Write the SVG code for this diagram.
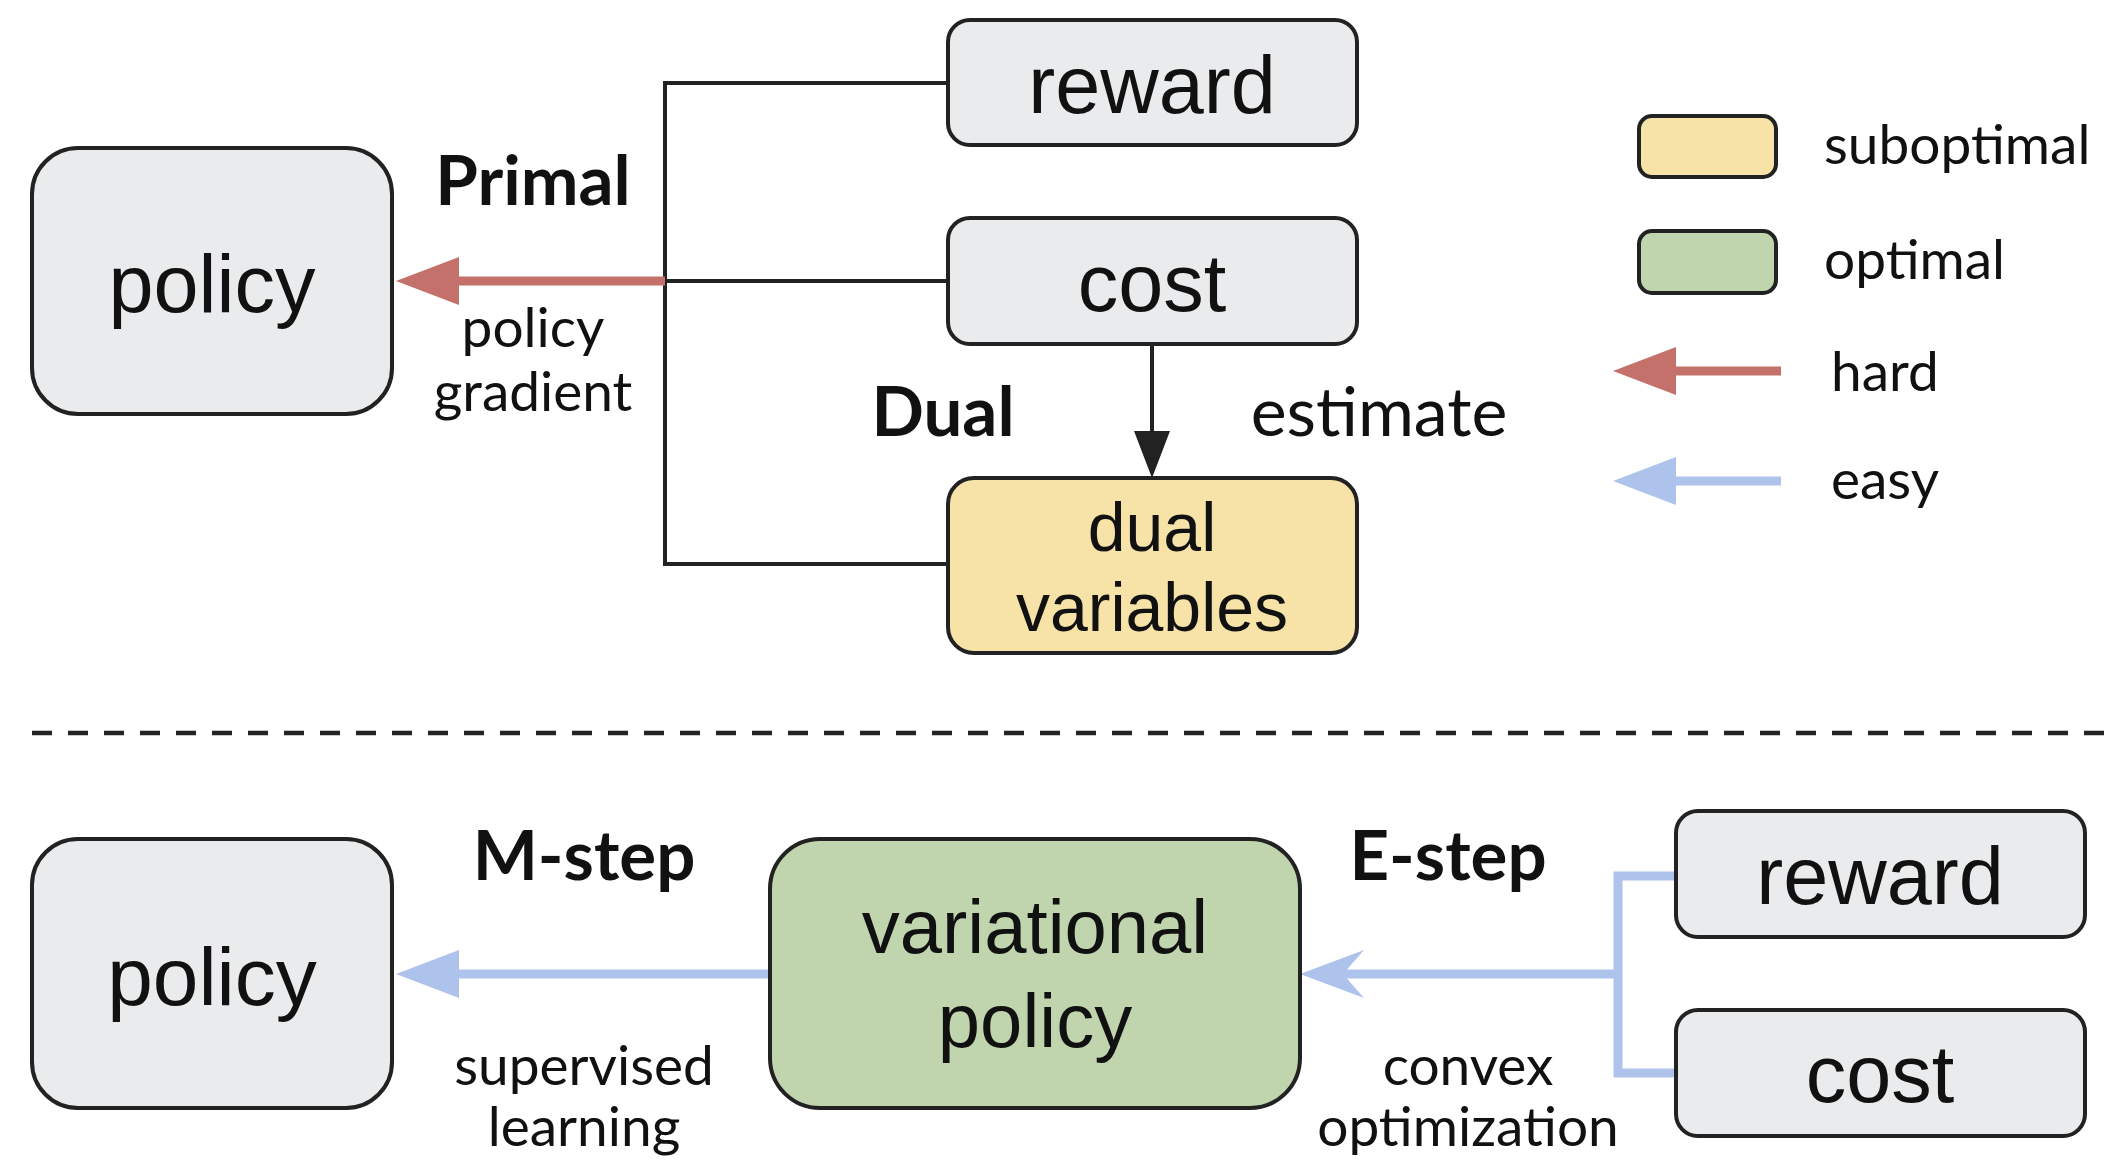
<svg xmlns="http://www.w3.org/2000/svg" width="2106" height="1161" viewBox="0 0 2106 1161">
<defs>
<style>
.node{fill:#e9ebec;stroke:#222;stroke-width:4}
.sub{fill:#f7e3a8;stroke:#222;stroke-width:4}
.opt{fill:#c0d5ae;stroke:#222;stroke-width:4}
.nt{font-family:"Liberation Sans",Arial,sans-serif;fill:#111;text-anchor:middle}
.lb{font-family:Lato,"Open Sans",sans-serif;fill:#111;text-anchor:middle}
.bold{font-weight:bold;font-size:69px}
.reg{font-size:55px}
.lg{font-family:Lato,"Open Sans",sans-serif;fill:#111;font-size:55px}
.black{fill:none;stroke:#222;stroke-width:4}
.hard{fill:none;stroke:#c4716c;stroke-width:9}
.easy{fill:none;stroke:#aec3eb;stroke-width:9}
</style>
<marker id="mHard" markerUnits="userSpaceOnUse" markerWidth="64" markerHeight="48" refX="0" refY="24" orient="auto" overflow="visible">
<path d="M0,0 L63,24 L0,48 z" fill="#c4716c"/>
</marker>
<marker id="mEasy" markerUnits="userSpaceOnUse" markerWidth="64" markerHeight="48" refX="0" refY="24" orient="auto" overflow="visible">
<path d="M0,0 L63,24 L0,48 z" fill="#aec3eb"/>
</marker>
<marker id="mEasySwept" markerUnits="userSpaceOnUse" markerWidth="64" markerHeight="48" refX="21" refY="24" orient="auto" overflow="visible">
<path d="M0,0 L64,24 L0,48 L21,24 z" fill="#aec3eb"/>
</marker>
<marker id="mBlack" markerUnits="userSpaceOnUse" markerWidth="47" markerHeight="36" refX="0" refY="18" orient="auto" overflow="visible">
<path d="M0,0 L47,18 L0,36 z" fill="#222"/>
</marker>
</defs>
<rect width="2106" height="1161" fill="#fff"/>

<g id="connectors">
<path class="black" d="M948,83 H665 V564 H948"/>
<path class="black" d="M948,281 H665"/>
<path class="hard" d="M665,281 H459" marker-end="url(#mHard)"/>
<path class="black" d="M1152,344 V431" marker-end="url(#mBlack)"/>
<path class="easy" d="M770,974 H459" marker-end="url(#mEasy)"/>
<path class="easy" d="M1676,876 H1618 V1073 H1676"/>
<path class="easy" d="M1618,974 H1343" marker-end="url(#mEasySwept)"/>
</g>

<g id="separator">
<line x1="32" y1="733" x2="2106" y2="733" stroke="#222" stroke-width="4.5" stroke-dasharray="20 16"/>
</g>

<g id="policy-top">
<rect class="node" x="32" y="148" width="360" height="266" rx="46"/>
<text class="nt" x="212" y="312" font-size="81">policy</text>
</g>
<g id="reward-top">
<rect class="node" x="948" y="20" width="409" height="125" rx="22"/>
<text class="nt" x="1152" y="113" font-size="81">reward</text>
</g>
<g id="cost-top">
<rect class="node" x="948" y="218" width="409" height="126" rx="22"/>
<text class="nt" x="1152" y="311" font-size="81">cost</text>
</g>
<g id="dual-variables">
<rect class="sub" x="948" y="478" width="409" height="175" rx="26"/>
<text class="nt" x="1152" y="551" font-size="68">dual</text>
<text class="nt" x="1152" y="631" font-size="68">variables</text>
</g>

<g id="labels-top">
<text class="lb bold" x="533" y="205">Primal</text>
<text class="lb reg" x="533" y="347">policy</text>
<text class="lb reg" x="533" y="411">gradient</text>
<text class="lb bold" x="943" y="436">Dual</text>
<text class="lb" x="1379" y="436" font-size="68">estimate</text>
</g>

<g id="legend">
<rect class="sub" x="1639" y="116" width="137" height="61" rx="13" stroke-width="5"/>
<text class="lg" x="1824" y="164">suboptimal</text>
<rect class="opt" x="1639" y="231" width="137" height="62" rx="13" stroke-width="5"/>
<text class="lg" x="1824" y="279">optimal</text>
<path class="hard" d="M1781,371 H1676" marker-end="url(#mHard)"/>
<text class="lg" x="1831" y="391">hard</text>
<path class="easy" d="M1781,481 H1676" marker-end="url(#mEasy)"/>
<text class="lg" x="1831" y="499">easy</text>
</g>

<g id="policy-bottom">
<rect class="node" x="32" y="839" width="360" height="269" rx="46"/>
<text class="nt" x="212" y="1005" font-size="82">policy</text>
</g>
<g id="variational-policy">
<rect class="opt" x="770" y="839" width="530" height="269" rx="50"/>
<text class="nt" x="1035" y="953" font-size="76">variational</text>
<text class="nt" x="1035" y="1047" font-size="76">policy</text>
</g>
<g id="reward-bottom">
<rect class="node" x="1676" y="811" width="409" height="126" rx="22"/>
<text class="nt" x="1880" y="904" font-size="81">reward</text>
</g>
<g id="cost-bottom">
<rect class="node" x="1676" y="1010" width="409" height="126" rx="22"/>
<text class="nt" x="1880" y="1102" font-size="81">cost</text>
</g>

<g id="labels-bottom">
<text class="lb bold" x="584" y="880">M-step</text>
<text class="lb reg" x="584" y="1085">supervised</text>
<text class="lb reg" x="584" y="1146">learning</text>
<text class="lb bold" x="1448" y="880">E-step</text>
<text class="lb reg" x="1468" y="1085">convex</text>
<text class="lb reg" x="1468" y="1146">optimization</text>
</g>
</svg>
